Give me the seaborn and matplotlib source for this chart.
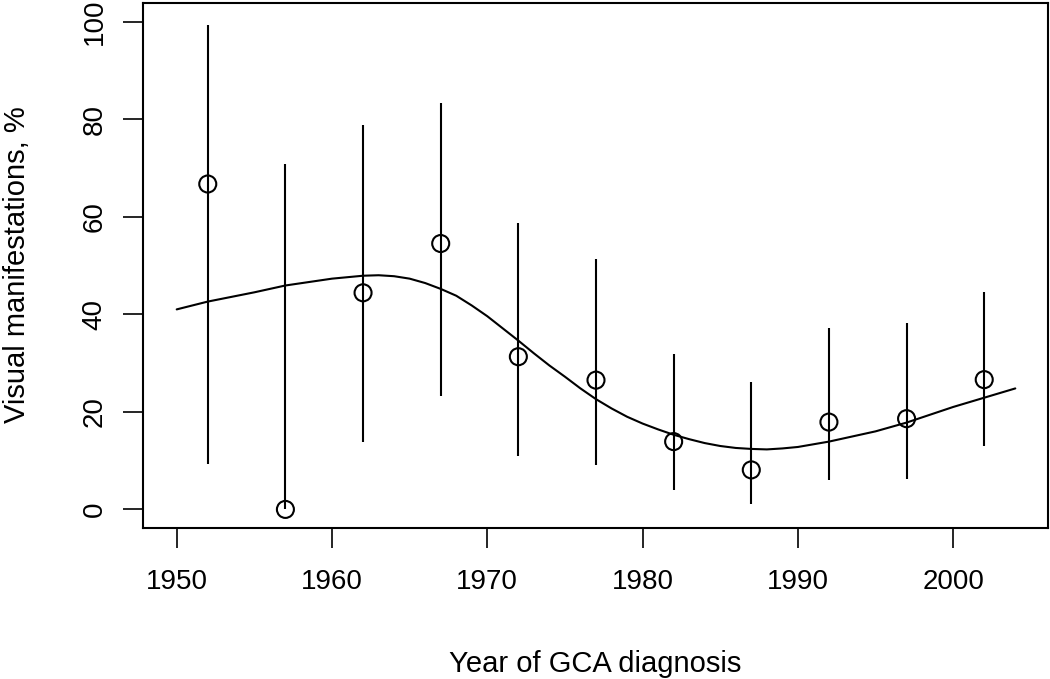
import numpy as np
import pandas as pd
import matplotlib
matplotlib.use('Agg')
import matplotlib.pyplot as plt
import seaborn as sns

# Observed proportions (%) with 95% CI, by 5-year period midpoint
years = [1952, 1957, 1962, 1967, 1972, 1977, 1982, 1987, 1992, 1997, 2002]
pct = [66.7, 0.0, 44.4, 54.5, 31.3, 26.5, 13.9, 8.1, 17.9, 18.6, 26.6]
ci_low = [9.4, 0.0, 13.8, 23.3, 11.0, 9.2, 4.0, 1.1, 6.1, 6.3, 12.9]
ci_high = [99.2, 70.8, 78.8, 83.3, 58.8, 51.4, 31.9, 26.2, 37.1, 38.3, 44.5]

# Smoothed trend
fit_years = [1950, 1952, 1955, 1957, 1960, 1962, 1963, 1964, 1965, 1966,
             1967, 1968, 1969, 1970, 1971, 1972, 1973, 1974, 1975, 1976,
             1977, 1978, 1979, 1980, 1981, 1982, 1983, 1984, 1985, 1986,
             1987, 1988, 1989, 1990, 1992, 1995, 1997, 2000, 2002, 2004]
fit_pct = [41.0, 42.6, 44.5, 45.9, 47.3, 47.9, 48.0, 47.8, 47.3, 46.4,
           45.2, 43.8, 41.8, 39.6, 37.1, 34.6, 32.0, 29.5, 27.2, 24.8,
           22.6, 20.7, 19.0, 17.6, 16.4, 15.3, 14.4, 13.6, 13.0, 12.6,
           12.4, 12.3, 12.5, 12.8, 13.9, 16.0, 17.8, 21.0, 22.9, 24.8]

obs = pd.DataFrame({'year': years, 'pct': pct, 'lo': ci_low, 'hi': ci_high})
fit = pd.DataFrame({'year': fit_years, 'pct': fit_pct})

sns.set_theme(style='ticks')
plt.rcParams['font.family'] = ['Liberation Sans', 'DejaVu Sans']

fig = plt.figure(figsize=(10.5, 6.79), dpi=100)
ax = fig.add_axes([0.1359, 0.2228, 0.998 - 0.1359, 0.9963 - 0.2228])

ax.vlines(obs['year'], obs['lo'], obs['hi'], color='black', linewidth=1.5)
sns.lineplot(data=fit, x='year', y='pct', ax=ax, color='black', linewidth=1.5)
sns.scatterplot(data=obs, x='year', y='pct', ax=ax, marker='o', s=150,
                facecolor='none', edgecolor='black', linewidth=1.5, zorder=5)

ax.set_xlim(1947.81, 2006.1)
ax.set_ylim(-3.75, 103.9)
ax.set_xticks([1950, 1960, 1970, 1980, 1990, 2000])
ax.set_yticks([0, 20, 40, 60, 80, 100])

for s in ax.spines.values():
    s.set_visible(True)
    s.set_color('black')
    s.set_linewidth(1.5)

ax.tick_params(axis='both', direction='out', length=14.4, width=1.2,
               color='black', labelsize=20, labelcolor='black')
ax.tick_params(axis='x', pad=15)
ax.tick_params(axis='y', pad=11)
plt.setp(ax.get_yticklabels(), rotation=90, va='center')

ax.set_xlabel('Year of GCA diagnosis', fontsize=21, labelpad=40, color='black')
ax.set_ylabel('Visual manifestations, %', fontsize=21, labelpad=36, color='black')

fig.savefig('out.png', dpi=100, facecolor='white')
